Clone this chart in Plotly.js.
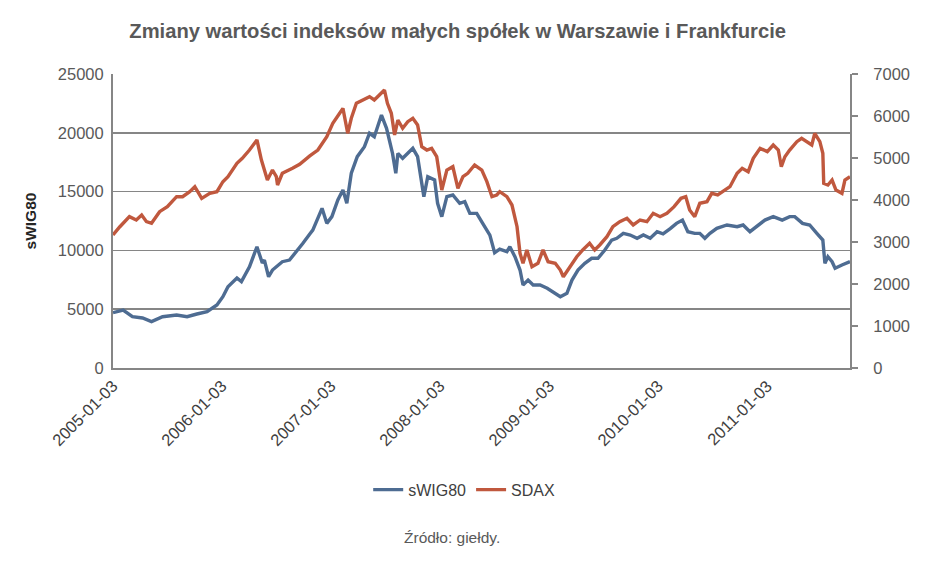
<!DOCTYPE html>
<html>
<head>
<meta charset="utf-8">
<script src="https://cdn.plot.ly/plotly-3.0.1.min.js"></script>
<style>html,body{margin:0;padding:0;background:#fff}#chart{width:934px;height:561px}</style>
</head>
<body>
<div id="chart"></div>
<script>
var swigDates = ["2005-01-03","2005-02-06","2005-03-09","2005-04-12","2005-05-12","2005-06-18","2005-08-04","2005-09-08","2005-10-11","2005-11-14","2005-12-17",
"2006-01-06","2006-01-23","2006-02-22","2006-03-09","2006-04-05","2006-04-30","2006-05-18","2006-05-25","2006-06-08","2006-06-21","2006-07-24","2006-08-17","2006-09-10","2006-09-20","2006-10-01","2006-10-24","2006-11-03","2006-12-04","2006-12-20",
"2007-01-06","2007-01-26","2007-02-12","2007-02-25","2007-03-12","2007-04-01","2007-04-25","2007-05-12","2007-05-28","2007-06-21","2007-07-08","2007-07-18","2007-07-28","2007-08-08","2007-08-15","2007-08-31","2007-09-17","2007-10-04","2007-10-20","2007-11-03","2007-11-10","2007-11-23","2007-12-16","2007-12-26",
"2008-01-09","2008-01-26","2008-02-15","2008-03-09","2008-03-26","2008-04-12","2008-05-05","2008-05-25","2008-06-18","2008-07-04","2008-07-21","2008-08-14","2008-08-24","2008-09-10","2008-09-27","2008-10-07","2008-10-24","2008-11-10","2008-12-03","2008-12-27",
"2009-01-16","2009-02-09","2009-03-03","2009-03-20","2009-04-09","2009-05-02","2009-05-25","2009-06-15","2009-07-08","2009-07-31","2009-08-17","2009-09-08","2009-10-01","2009-10-24","2009-11-14","2009-12-07","2009-12-30",
"2010-01-19","2010-02-12","2010-03-05","2010-03-25","2010-04-12","2010-05-05","2010-05-22","2010-06-08","2010-06-25","2010-07-18","2010-08-21","2010-09-24","2010-10-14","2010-11-06","2010-11-29","2010-12-26",
"2011-01-23","2011-02-22","2011-03-19","2011-04-05","2011-05-01","2011-05-25","2011-06-18","2011-07-08","2011-07-15","2011-07-25","2011-08-08","2011-08-18","2011-09-10","2011-10-07"];
var swigValues = [4700,4930,4360,4250,3940,4360,4500,4360,4590,4790,5360,
6060,6910,7650,7340,8610,10310,8930,9180,7760,8330,9040,9180,9890,10180,10600,11400,11730,13580,12300,
12870,14290,15140,14000,16560,17970,18820,19960,19670,21510,20380,19240,18250,16560,18250,17830,18250,18680,17970,15700,14570,16270,15990,14000,
12870,14570,14710,14000,14140,13150,13150,12300,11300,9800,10100,9890,10310,9460,8330,7060,7480,7060,7060,6780,
6490,6060,6350,7480,8330,8900,9330,9330,10030,10880,11030,11450,11310,11030,11310,11030,11590,
11400,11850,12300,12580,11590,11450,11450,11030,11450,11880,12160,12020,12160,11590,12020,12580,
12870,12580,12870,12870,12300,12160,11450,10880,8900,9460,9040,8480,8760,9040];

var sdaxDates = ["2005-01-03","2005-01-26","2005-02-27","2005-03-22","2005-04-09","2005-04-25","2005-05-12","2005-06-08","2005-07-04","2005-08-04","2005-08-24","2005-09-17","2005-10-04","2005-10-27","2005-11-23","2005-12-17",
"2006-01-06","2006-01-23","2006-02-22","2006-03-12","2006-04-05","2006-04-30","2006-05-15","2006-05-25","2006-06-04","2006-06-21","2006-07-04","2006-07-08","2006-07-24","2006-08-27","2006-09-20","2006-10-24","2006-11-20","2006-12-20",
"2007-01-09","2007-02-01","2007-02-12","2007-02-28","2007-03-12","2007-03-29","2007-04-18","2007-05-12","2007-05-28","2007-06-15","2007-07-01","2007-07-11","2007-07-24","2007-08-04","2007-08-15","2007-08-31","2007-09-17","2007-10-04","2007-10-20","2007-11-03","2007-11-20","2007-12-06","2007-12-23",
"2008-01-09","2008-01-26","2008-02-15","2008-03-03","2008-03-20","2008-04-05","2008-04-28","2008-05-22","2008-06-08","2008-06-25","2008-07-11","2008-07-21","2008-08-14","2008-08-31","2008-09-17","2008-09-27","2008-10-07","2008-10-20","2008-11-06","2008-11-26","2008-12-13","2008-12-30",
"2009-01-23","2009-02-09","2009-02-19","2009-03-12","2009-04-05","2009-04-25","2009-05-18","2009-06-04","2009-06-21","2009-07-15","2009-08-04","2009-08-27","2009-09-20","2009-10-11","2009-11-03","2009-11-26","2009-12-17",
"2010-01-09","2010-02-01","2010-02-25","2010-03-20","2010-04-05","2010-04-18","2010-05-05","2010-05-22","2010-06-15","2010-07-01","2010-07-21","2010-08-08","2010-08-31","2010-09-24","2010-10-11","2010-10-31","2010-11-17","2010-12-10",
"2011-01-03","2011-01-23","2011-02-09","2011-02-19","2011-03-03","2011-03-19","2011-04-12","2011-04-28","2011-05-18","2011-06-01","2011-06-11","2011-06-28","2011-07-08","2011-07-11","2011-07-25","2011-08-08","2011-08-21","2011-09-10","2011-09-20","2011-10-07"];
var sdaxValues = [3167,3364,3603,3524,3643,3484,3445,3722,3841,4079,4079,4198,4317,4040,4159,4198,
4436,4555,4874,4993,5190,5429,4952,4674,4476,4714,4555,4357,4636,4755,4850,5050,5190,5507,
5826,6064,6183,5588,5945,6302,6381,6460,6381,6500,6619,6302,6064,5548,5905,5707,5865,5945,5786,5269,5190,5230,5031,
4238,4714,4793,4278,4555,4636,4833,4714,4436,4079,4119,4198,4079,3881,3364,2731,2493,2810,2412,2493,2810,2531,
2493,2333,2174,2412,2650,2810,2969,2810,2929,3126,3364,3484,3564,3405,3524,3484,3683,
3603,3683,3841,4040,4079,3762,3603,3921,3960,4159,4119,4198,4317,4636,4755,4674,4993,5230,
5151,5309,5190,4793,5031,5190,5388,5469,5388,5309,5588,5388,5112,4398,4357,4476,4238,4159,4476,4555];

var tickDates = ["2005-01-03","2006-01-03","2007-01-03","2008-01-03","2009-01-03","2010-01-03","2011-01-03"];
var seriesNames = ["sWIG80","SDAX"];

var gray = "#868686";
var data = [
  {x: swigDates, y: swigValues, name: seriesNames[0], type: "scatter", mode: "lines",
   line: {color: "#4E6C92", width: 3.4}, yaxis: "y"},
  {x: sdaxDates, y: sdaxValues, name: seriesNames[1], type: "scatter", mode: "lines",
   line: {color: "#C0583E", width: 3.4}, yaxis: "y2"}
];
var layout = {
  width: 934, height: 561,
  margin: {l: 113, r: 84, t: 74, b: 193},
  paper_bgcolor: "#fff", plot_bgcolor: "#fff",
  font: {family: "Liberation Sans, Arial, sans-serif", color: "#595959"},
  title: {text: "Zmiany wartości indeksów małych spółek w Warszawie i Frankfurcie",
          font: {family: "Liberation Sans, Arial, sans-serif", size: 20.2, color: "#595959", weight: "bold"},
          xref: "container", x: 0.49, xanchor: "center", yref: "container", y: 0.945, yanchor: "middle"},
  xaxis: {type: "date", range: ["2005-01-03", "2011-10-07"], tickvals: tickDates, ticktext: tickDates,
          tickangle: -45, showgrid: false, showline: true, linecolor: gray, linewidth: 2,
          ticks: "", tickfont: {size: 16.5, color: "#404040"}, zeroline: false, fixedrange: true},
  yaxis: {range: [0, 25000], dtick: 5000, tick0: 0, tickformat: "d", showgrid: true, gridcolor: gray, gridwidth: 1.5,
          showline: true, linecolor: gray, linewidth: 2, ticks: "", zeroline: false,
          tickfont: {size: 16.5, color: "#595959"}, ticklabelstandoff: 4,
          title: {text: "sWIG80", font: {size: 15.5, color: "#262626", weight: "bold"}, standoff: 17}},
  yaxis2: {range: [0, 7000], dtick: 1000, tick0: 0, tickformat: "d", overlaying: "y", side: "right", showgrid: false,
           showline: true, linecolor: gray, linewidth: 2, ticks: "outside", ticklen: 6, tickcolor: gray, tickwidth: 1.5,
           zeroline: false, tickfont: {size: 16.5, color: "#595959"}, ticklabelstandoff: 12},
  showlegend: true,
  legend: {orientation: "h", xref: "container", yref: "container", x: 0.497, xanchor: "center",
           y: 0.127, yanchor: "middle", font: {size: 16, color: "#404040"}, itemwidth: 30, tracegroupgap: 0},
  annotations: [{text: "Źródło: giełdy.", xref: "paper", yref: "paper", x: 0.46, y: -0.575,
                 xanchor: "center", yanchor: "middle", showarrow: false,
                 font: {size: 15.5, color: "#595959"}}]
};
Plotly.newPlot("chart", data, layout, {displayModeBar: false, staticPlot: true});
</script>
</body>
</html>
